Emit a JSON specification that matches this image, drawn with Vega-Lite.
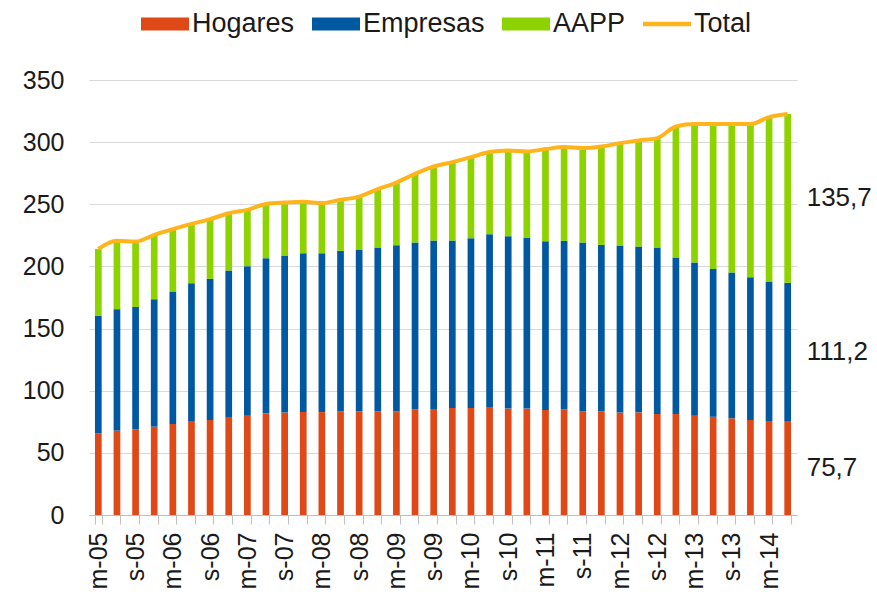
{
  "$schema": "https://vega.github.io/schema/vega-lite/v6.json",
  "autosize": "none",
  "width": 708,
  "height": 435,
  "padding": {"left": 89, "top": 80, "right": 80, "bottom": 80},
  "background": "white",
  "datasets": {
    "d": [
      {"q": "m-05", "Hogares": 65.8, "Empresas": 94.4, "AAPP": 53.9, "Total": 214.1},
      {"q": "j-05", "Hogares": 67.9, "Empresas": 97.7, "AAPP": 55.0, "Total": 220.6},
      {"q": "s-05", "Hogares": 69.0, "Empresas": 98.4, "AAPP": 52.6, "Total": 220.0},
      {"q": "d-05", "Hogares": 71.1, "Empresas": 102.5, "AAPP": 51.8, "Total": 225.4},
      {"q": "m-06", "Hogares": 73.3, "Empresas": 106.5, "AAPP": 50.2, "Total": 230.0},
      {"q": "j-06", "Hogares": 75.7, "Empresas": 110.8, "AAPP": 47.7, "Total": 234.2},
      {"q": "s-06", "Hogares": 76.5, "Empresas": 113.5, "AAPP": 48.0, "Total": 238.0},
      {"q": "d-06", "Hogares": 78.9, "Empresas": 117.8, "AAPP": 46.1, "Total": 242.8},
      {"q": "m-07", "Hogares": 79.9, "Empresas": 120.3, "AAPP": 45.3, "Total": 245.5},
      {"q": "j-07", "Hogares": 81.8, "Empresas": 124.8, "AAPP": 43.7, "Total": 250.3},
      {"q": "s-07", "Hogares": 82.4, "Empresas": 126.3, "AAPP": 42.7, "Total": 251.4},
      {"q": "d-07", "Hogares": 82.9, "Empresas": 127.7, "AAPP": 41.4, "Total": 252.0},
      {"q": "m-08", "Hogares": 82.8, "Empresas": 127.8, "AAPP": 40.4, "Total": 251.0},
      {"q": "j-08", "Hogares": 83.2, "Empresas": 129.3, "AAPP": 41.1, "Total": 253.6},
      {"q": "s-08", "Hogares": 83.2, "Empresas": 130.4, "AAPP": 42.6, "Total": 256.2},
      {"q": "d-08", "Hogares": 83.2, "Empresas": 132.0, "AAPP": 47.0, "Total": 262.2},
      {"q": "m-09", "Hogares": 83.2, "Empresas": 133.9, "AAPP": 50.4, "Total": 267.5},
      {"q": "j-09", "Hogares": 85.1, "Empresas": 134.1, "AAPP": 55.3, "Total": 274.5},
      {"q": "s-09", "Hogares": 85.3, "Empresas": 135.5, "AAPP": 59.6, "Total": 280.4},
      {"q": "d-09", "Hogares": 86.1, "Empresas": 134.7, "AAPP": 63.1, "Total": 283.9},
      {"q": "m-10", "Hogares": 86.1, "Empresas": 136.6, "AAPP": 65.2, "Total": 287.9},
      {"q": "j-10", "Hogares": 86.9, "Empresas": 139.0, "AAPP": 66.1, "Total": 292.0},
      {"q": "s-10", "Hogares": 85.6, "Empresas": 138.7, "AAPP": 69.0, "Total": 293.3},
      {"q": "d-10", "Hogares": 85.6, "Empresas": 137.4, "AAPP": 69.5, "Total": 292.5},
      {"q": "m-11", "Hogares": 84.5, "Empresas": 135.7, "AAPP": 74.2, "Total": 294.4},
      {"q": "j-11", "Hogares": 85.1, "Empresas": 135.5, "AAPP": 75.4, "Total": 296.0},
      {"q": "s-11", "Hogares": 83.5, "Empresas": 135.7, "AAPP": 76.0, "Total": 295.2},
      {"q": "d-11", "Hogares": 83.2, "Empresas": 134.1, "AAPP": 79.2, "Total": 296.5},
      {"q": "m-12", "Hogares": 82.4, "Empresas": 134.4, "AAPP": 82.4, "Total": 299.2},
      {"q": "j-12", "Hogares": 82.6, "Empresas": 133.4, "AAPP": 85.4, "Total": 301.4},
      {"q": "s-12", "Hogares": 81.3, "Empresas": 133.9, "AAPP": 88.0, "Total": 303.2},
      {"q": "d-12", "Hogares": 81.3, "Empresas": 125.8, "AAPP": 105.5, "Total": 312.6},
      {"q": "m-13", "Hogares": 79.9, "Empresas": 123.2, "AAPP": 111.4, "Total": 314.5},
      {"q": "j-13", "Hogares": 79.1, "Empresas": 118.9, "AAPP": 116.5, "Total": 314.5},
      {"q": "s-13", "Hogares": 77.8, "Empresas": 117.3, "AAPP": 119.4, "Total": 314.5},
      {"q": "d-13", "Hogares": 76.5, "Empresas": 114.8, "AAPP": 123.2, "Total": 314.5},
      {"q": "m-14", "Hogares": 75.7, "Empresas": 112.1, "AAPP": 132.3, "Total": 320.1},
      {"q": "j-14", "Hogares": 75.7, "Empresas": 111.2, "AAPP": 135.7, "Total": 322.6}
    ]
  },
  "data": {"name": "d"},
  "encoding": {
    "x": {
      "field": "q",
      "type": "ordinal",
      "sort": null,
      "scale": {"paddingInner": 0.64, "paddingOuter": 0.32},
      "axis": {"title": null}
    }
  },
  "layer": [
    {
      "transform": [{"fold": ["Hogares", "Empresas", "AAPP"], "as": ["serie", "v"]}],
      "mark": {"type": "bar"},
      "encoding": {
        "y": {
          "field": "v",
          "type": "quantitative",
          "stack": "zero",
          "scale": {"domain": [0, 350], "nice": false},
          "axis": {"title": null}
        },
        "color": {
          "field": "serie",
          "type": "nominal",
          "scale": {
            "domain": ["Hogares", "Empresas", "AAPP", "Total"],
            "range": ["#DE4917", "#0059A0", "#8DD300", "#FFB41C"]
          },
          "legend": {
            "title": null,
            "orient": "none",
            "direction": "horizontal",
            "legendX": 52,
            "legendY": -80,
            "encode": {
              "symbols": {
                "update": {
                  "shape": {"signal": "datum.value === 'Total' ? 'M-1,-0.09H1V0.09H-1Z' : 'M-1,-0.27H1V0.27H-1Z'"},
                  "fill": {"scale": "color", "field": "value"},
                  "strokeWidth": {"value": 0},
                  "opacity": {"value": 1}
                }
              }
            }
          }
        },
        "order": {"field": "serie", "sort": "descending"}
      }
    },
    {
      "mark": {"type": "line", "interpolate": "monotone", "strokeWidth": 4},
      "encoding": {
        "y": {"field": "Total", "type": "quantitative", "axis": {"title": null}},
        "color": {"datum": "Total", "type": "nominal"}
      }
    },
    {
      "transform": [
        {"filter": "datum.q === 'j-14'"},
        {"fold": ["Hogares", "Empresas", "AAPP"], "as": ["serie", "v"]},
        {"calculate": "replace(format(datum.v, '.1f'), '.', ',')", "as": "lbl"}
      ],
      "mark": {"type": "text", "align": "left", "baseline": "middle", "dx": 19, "fontSize": 26, "font": "Liberation Sans", "color": "#1a1a1a"},
      "encoding": {
        "y": {"field": "v", "type": "quantitative", "stack": "zero", "bandPosition": 0.5, "axis": {"title": null}},
        "detail": {"field": "serie"},
        "order": {"field": "serie", "sort": "descending"},
        "text": {"field": "lbl"}
      }
    }
  ],
  "config": {
    "view": {"stroke": null},
    "font": "Liberation Sans",
    "axisX": {
      "domainColor": "#bfbfbf",
      "tickColor": "#bfbfbf",
      "tickSize": 9,
      "tickBand": "extent",
      "labelAngle": 270,
      "labelAlign": "right",
      "labelBaseline": "middle",
      "labelPadding": 8,
      "labelFontSize": 25,
      "labelColor": "#1a1a1a",
      "labelFont": "Liberation Sans",
      "labelExpr": "test(/^[ms]/, datum.label) ? datum.label : ''",
      "grid": false
    },
    "axisY": {
      "domain": false,
      "ticks": false,
      "values": [0, 50, 100, 150, 200, 250, 300, 350],
      "labelPadding": 25,
      "labelFontSize": 25,
      "labelColor": "#1a1a1a",
      "labelFont": "Liberation Sans",
      "gridColor": "#d9d9d9",
      "gridWidth": 1.2
    },
    "legend": {
      "labelFontSize": 27,
      "labelFont": "Liberation Sans",
      "labelColor": "#1a1a1a",
      "symbolSize": 2304,
      "labelOffset": 3,
      "columnPadding": 17,
      "labelLimit": 0
    }
  }
}
